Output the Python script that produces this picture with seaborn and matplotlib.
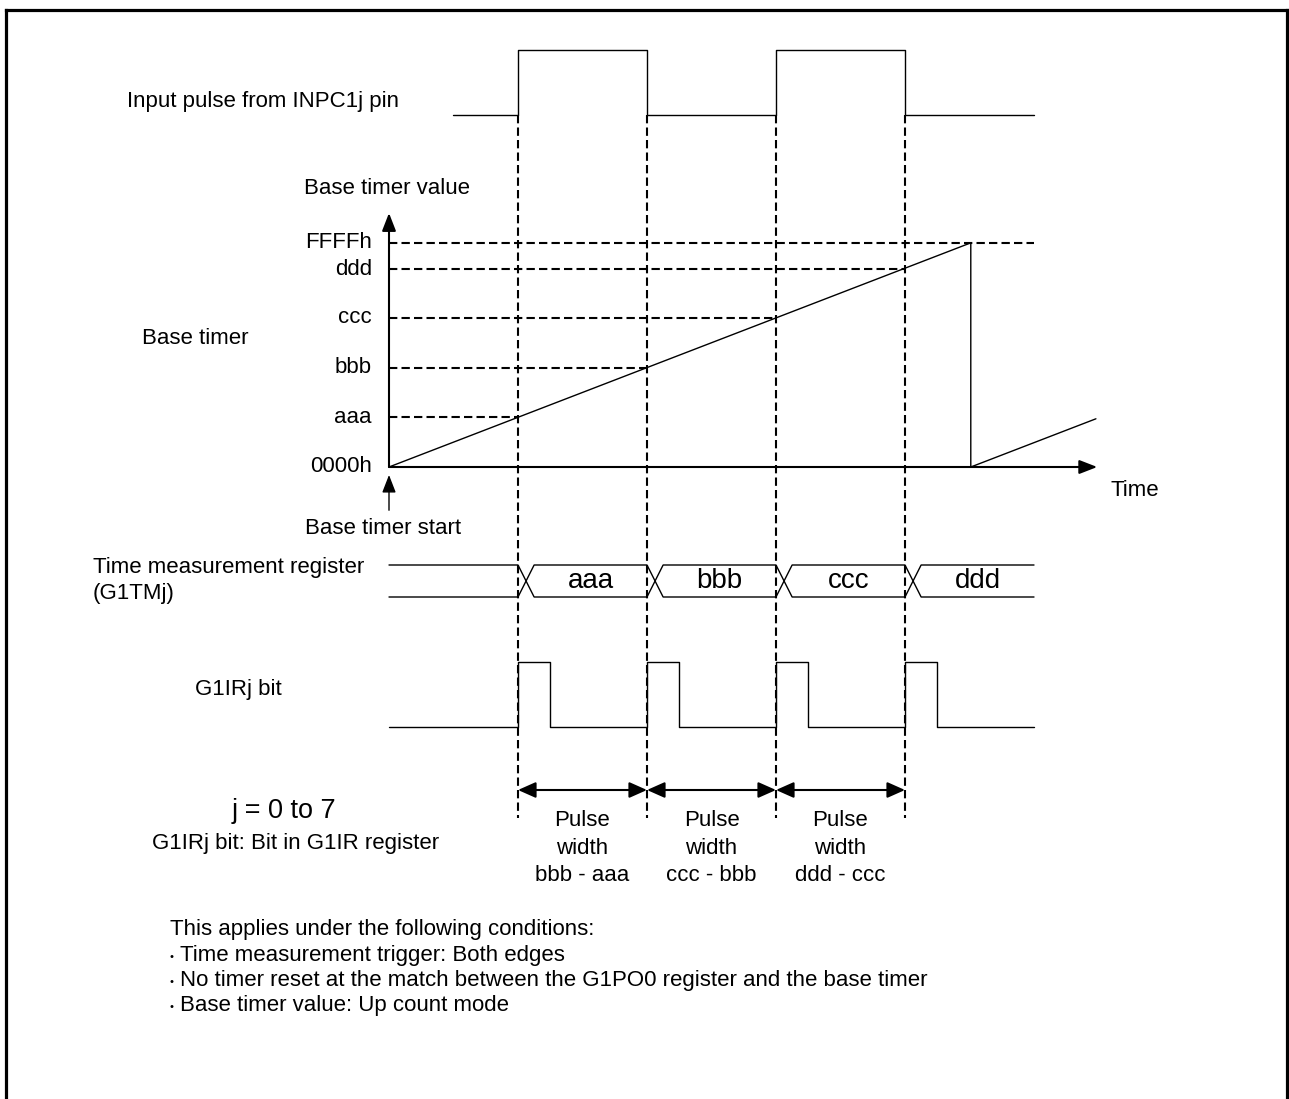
import numpy as np
import pandas as pd
import matplotlib
matplotlib.use("Agg")
import matplotlib.pyplot as plt
import seaborn as sns

# ---------------- data ----------------
edge_times = [1, 2, 3, 4]                     # both-edge capture points (time units)
input_times = [0.5, 1, 2, 3, 4, 5.0]          # input pulse change points
input_levels = [0, 1, 0, 1, 0, 0]
timer_times = [0, 4.51, 4.51, 5.48]           # base timer sawtooth
timer_values = [0, 4.51, 0, 0.97]
captured_names = ["aaa", "bbb", "ccc", "ddd"]
captured_values = [1.0, 2.0, 3.0, 3.98]
max_name = "FFFFh"
max_value = 4.51
zero_name = "0000h"
register_start, register_end = 0.0, 5.0
ir_times = [0, 1, 1.25, 2, 2.25, 3, 3.25, 4, 4.25, 5.0]
ir_levels = [0, 1, 0, 1, 0, 1, 0, 1, 0, 0]
pulse_labels = ["Pulse\nwidth\nbbb - aaa", "Pulse\nwidth\nccc - bbb", "Pulse\nwidth\nddd - ccc"]
conditions_title = "This applies under the following conditions:"
conditions = ["Time measurement trigger: Both edges",
              "No timer reset at the match between the G1PO0 register and the base timer",
              "Base timer value: Up count mode"]

# ---------------- layout ----------------
W, H = 1289, 1099
X0, XU = 389, 129.0           # pixel of t=0, pixels per time unit
def T(px):
    return (px - X0) / XU

sns.set_theme(style="white")
plt.rcParams["font.family"] = ["Liberation Sans", "DejaVu Sans"]
plt.rcParams["text.color"] = "black"
FS = 16

fig = plt.figure(figsize=(W / 100, H / 100), dpi=100)
fig.patch.set_facecolor("white")

bg = fig.add_axes([0, 0, 1, 1])
bg.set_xlim(0, W); bg.set_ylim(H, 0); bg.set_axis_off()

def row_axes(p0, p1):
    ax = fig.add_axes([0, 0, 1, 1])
    ax.set_axis_off()
    ax.patch.set_alpha(0)
    ax.set_xlim(T(0), T(W))
    unit = p0 - p1
    ax.set_ylim((p0 - H) / unit, p0 / unit)
    return ax

ax_in = row_axes(115, 50)
ax_tm = row_axes(467, 467 - 49.7)
ax_rg = row_axes(597, 565)
ax_ir = row_axes(727, 662)
ax_px = fig.add_axes([0, 0, 1, 1]); ax_px.set_axis_off(); ax_px.patch.set_alpha(0)
ax_px.set_xlim(T(0), T(W)); ax_px.set_ylim(H, 0)

K = "black"
LW = 1.0
DASH = (0, (4, 2))

# frame
bg.plot([5.5, 5.5], [H, 9.5], color=K, lw=2.3, solid_capstyle="projecting")
bg.plot([5.5, 1287], [9.5, 9.5], color=K, lw=2.3, solid_capstyle="projecting")
bg.plot([1287, 1287], [9.5, H], color=K, lw=2.3, solid_capstyle="projecting")

# input pulse
sns.lineplot(x=input_times, y=input_levels, ax=ax_in, color=K, lw=LW,
             drawstyle="steps-post", estimator=None, sort=False, legend=False)

# base timer sawtooth
sns.lineplot(x=timer_times, y=timer_values, ax=ax_tm, color=K, lw=LW,
             estimator=None, sort=False, legend=False)

# timer axes arrows
ax_tm.annotate("", xy=(0, 5.11), xytext=(0, 0),
               arrowprops=dict(arrowstyle="-|>,head_length=0.9,head_width=0.35",
                               mutation_scale=12, color=K, lw=1.5, shrinkA=0, shrinkB=0))
ax_tm.annotate("", xy=(5.49, 0), xytext=(0, 0),
               arrowprops=dict(arrowstyle="-|>,head_length=0.9,head_width=0.35",
                               mutation_scale=12, color=K, lw=1.5, shrinkA=0, shrinkB=0))
ax_tm.annotate("", xy=(0, -0.16), xytext=(0, -0.87),
               arrowprops=dict(arrowstyle="-|>,head_length=0.9,head_width=0.35",
                               mutation_scale=12, color=K, lw=1.0, shrinkA=0, shrinkB=0))

# dashed horizontal levels
for t, v in zip(edge_times, captured_values):
    ax_tm.plot([0, t], [v, v], color=K, lw=1.5, ls=DASH)
ax_tm.plot([0, 5.0], [max_value, max_value], color=K, lw=1.5, ls=DASH)

# value labels
lab_x = T(372)
for name, v in zip([zero_name] + captured_names + [max_name],
                   [0] + captured_values + [max_value]):
    ax_tm.text(lab_x, v, name, ha="right", va="center", fontsize=FS)

# dashed vertical edge lines
for t in edge_times:
    ax_px.plot([t, t], [115, 818], color=K, lw=1.5, ls=DASH)

# register bus
cw = 0.125
pa_x, pa_y, pb_x, pb_y = [register_start], [1], [register_start], [0]
lvl = 1
for e in edge_times:
    pa_x += [e, e + cw]; pa_y += [lvl, 1 - lvl]
    pb_x += [e, e + cw]; pb_y += [1 - lvl, lvl]
    lvl = 1 - lvl
pa_x.append(register_end); pa_y.append(lvl)
pb_x.append(register_end); pb_y.append(1 - lvl)
sns.lineplot(x=pa_x, y=pa_y, ax=ax_rg, color=K, lw=LW, estimator=None, sort=False, legend=False)
sns.lineplot(x=pb_x, y=pb_y, ax=ax_rg, color=K, lw=LW, estimator=None, sort=False, legend=False)
seg_ends = edge_times[1:] + [register_end]
for e, nxt, name in zip(edge_times, seg_ends, captured_names):
    ax_rg.text((e + cw + nxt) / 2, 0.5, name, ha="center", va="center", fontsize=20)

# G1IRj bit
sns.lineplot(x=ir_times, y=ir_levels, ax=ax_ir, color=K, lw=LW,
             drawstyle="steps-post", estimator=None, sort=False, legend=False)

# pulse-width arrows
for a, b, lab in zip(edge_times[:-1], edge_times[1:], pulse_labels):
    ax_px.annotate("", xy=(b, 790), xytext=(a, 790),
                   arrowprops=dict(arrowstyle="<|-|>,head_length=0.9,head_width=0.4",
                                   mutation_scale=12, color=K, lw=1.5, shrinkA=0, shrinkB=0))
    ax_px.text((a + b) / 2, 848, lab, ha="center", va="center", fontsize=FS,
               multialignment="center", linespacing=1.38)

# labels (pixel layout)
bg.text(127, 101, "Input pulse from INPC1j pin", ha="left", va="center", fontsize=FS)
bg.text(387, 188, "Base timer value", ha="center", va="center", fontsize=FS)
bg.text(195, 339, "Base timer", ha="center", va="center", fontsize=FS)
bg.text(1135, 491, "Time", ha="center", va="center", fontsize=FS)
bg.text(383, 529, "Base timer start", ha="center", va="center", fontsize=FS)
bg.text(93, 567, "Time measurement register", ha="left", va="center", fontsize=FS)
bg.text(93, 593, "(G1TMj)", ha="left", va="center", fontsize=FS)
bg.text(238, 690, "G1IRj bit", ha="center", va="center", fontsize=FS)
bg.text(284, 811, "j = 0 to 7", ha="center", va="center", fontsize=19.5)
bg.text(296, 844, "G1IRj bit: Bit in G1IR register", ha="center", va="center", fontsize=FS)
bg.text(170, 930, conditions_title, ha="left", va="center", fontsize=FS)
for i, line in enumerate(conditions):
    y = 955 + i * 25.5
    bg.text(172, y + 1.5, "•", ha="center", va="center", fontsize=8)
    bg.text(180, y, line, ha="left", va="center", fontsize=FS)

fig.savefig("out.png", dpi=100, facecolor="white")
